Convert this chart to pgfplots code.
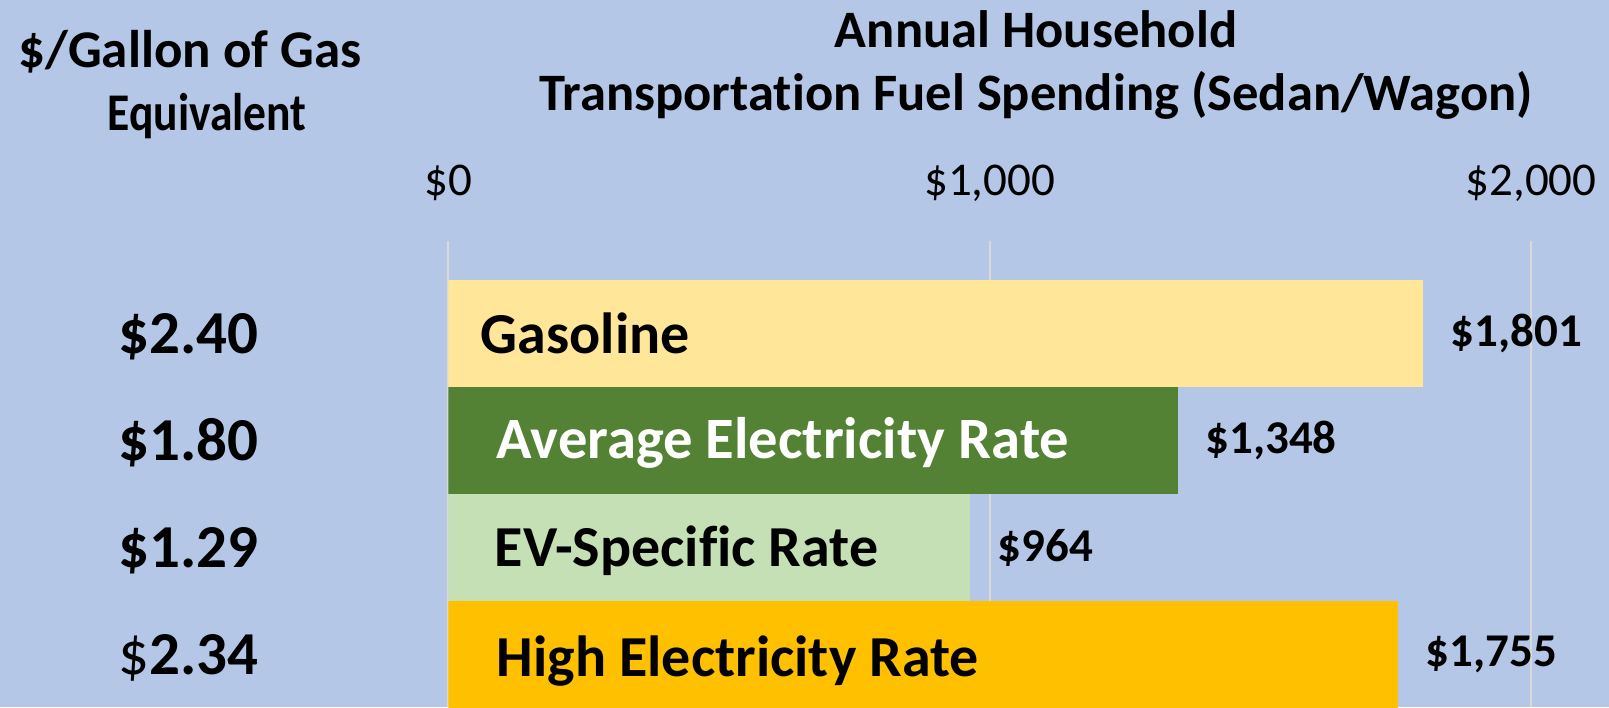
\documentclass[border=0pt]{standalone}
\usepackage{pgfplots}
\pgfplotsset{compat=1.18}
\usepackage{fontspec}
\setmainfont{Carlito}[Ligatures=NoCommon]
\definecolor{bgblue}{HTML}{B4C7E7}
\definecolor{gasc}{HTML}{FFE699}
\definecolor{avgc}{HTML}{548235}
\definecolor{evc}{HTML}{C5E0B4}
\definecolor{highc}{HTML}{FFC000}
\definecolor{gridc}{HTML}{D9D9D9}
\begin{document}
\begin{tikzpicture}
\fill[bgblue] (-224.2pt,0pt) rectangle (580.3pt,353.5pt);
\begin{axis}[
  at={(0pt,0pt)}, anchor=south west,
  scale only axis,
  width=541.3pt, height=233pt,
  xmin=0, xmax=2000,
  ymin=-0.864, ymax=3.491,
  y dir=reverse,
  xbar, bar width=1, bar shift=0pt,
  axis line style={draw=none},
  major tick length=0pt,
  xtick={0,1000,2000},
  xticklabels={{\$0},{\$1,000},{\$2,000}},
  xticklabel pos=upper,
  xticklabel style={font=\fontsize{23.5}{28}\selectfont, anchor=base, yshift=23pt, inner sep=0pt},
  ytick={0,1,2,3},
  yticklabels={{\$2.40},{\$1.80},{\$1.29},{{\mdseries\$}2.34}},
  yticklabel style={font=\fontsize{30.5}{36}\selectfont\bfseries, anchor=base, xshift=-130pt, yshift=-10pt, inner sep=0pt},
  xmajorgrids=true,
  grid style={draw=gridc, line width=1pt},
  nodes near coords,
  point meta=explicit symbolic,
  every node near coord/.append style={font=\fontsize{23.5}{28}\selectfont\bfseries, anchor=west, inner sep=0pt, xshift=13.5pt, black},
]
\addplot[fill=gasc, draw=none] coordinates {(1801,0) [\$1{,}801]};
\addplot[fill=avgc, draw=none] coordinates {(1348,1) [\$1{,}348]};
\addplot[fill=evc, draw=none] coordinates {(964,2) [\$964]};
\addplot[fill=highc, draw=none] coordinates {(1755,3) [\$1{,}755]};
\node[anchor=base west, inner sep=0pt, xshift=16pt, yshift=-10pt, font=\fontsize{29}{34}\selectfont\bfseries] at (axis cs:0,0) {Gasoline};
\node[anchor=base west, inner sep=0pt, xshift=24pt, yshift=-9pt, text=white, font=\fontsize{29.3}{34}\selectfont\bfseries] at (axis cs:0,1) {Average Electricity Rate};
\node[anchor=base west, inner sep=0pt, xshift=23pt, yshift=-9.5pt, font=\fontsize{29}{34}\selectfont\bfseries] at (axis cs:0,2) {EV-Specific Rate};
\node[anchor=base west, inner sep=0pt, xshift=24pt, yshift=-11pt, font=\fontsize{29}{34}\selectfont\bfseries] at (axis cs:0,3) {High Electricity Rate};
\end{axis}
\node[anchor=base, inner sep=0pt, font=\fontsize{26.5}{32}\selectfont\bfseries] at (-129.2pt,319.5pt) {\$/Gallon of Gas};
\node[anchor=base, inner sep=0pt, font=\fontsize{26.5}{32}\selectfont\bfseries] at (-120.7pt,288pt) {\scalebox{0.86}[1]{Equivalent}};
\node[anchor=base, inner sep=0pt, font=\fontsize{26.3}{32}\selectfont\bfseries] at (293.8pt,329.5pt) {Annual Household};
\node[anchor=base, inner sep=0pt, font=\fontsize{26.3}{32}\selectfont\bfseries] at (293.8pt,298pt) {Transportation Fuel Spending (Sedan/Wagon)};
\pgfresetboundingbox
\useasboundingbox (-224.2pt,0pt) rectangle (580.3pt,353.5pt);
\end{tikzpicture}
\end{document}
